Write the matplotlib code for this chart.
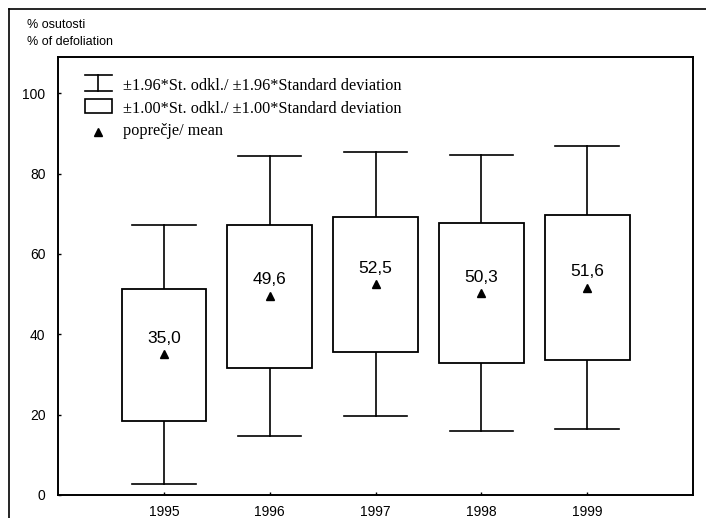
import matplotlib
matplotlib.use("Agg")
import matplotlib.pyplot as plt
from matplotlib.patches import Rectangle
from matplotlib.lines import Line2D

years = ["1995", "1996", "1997", "1998", "1999"]
means = [35.0, 49.6, 52.5, 50.3, 51.6]
box_low = [18.3, 31.7, 35.6, 32.9, 33.7]
box_high = [51.3, 67.3, 69.2, 67.8, 69.8]
whisk_low = [2.7, 14.8, 19.7, 15.9, 16.4]
whisk_high = [67.2, 84.4, 85.3, 84.6, 86.9]
mean_labels = ["35,0", "49,6", "52,5", "50,3", "51,6"]

plt.rcParams['font.family'] = ['Liberation Sans', 'DejaVu Sans']

fig = plt.figure(figsize=(7.06, 5.18), dpi=100)
ax = fig.add_axes([58/706, (518-495)/518, (693-58)/706, (495-57)/518])

box_w = 0.8
cap_w = 0.6
for i in range(len(years)):
    ax.plot([i, i], [whisk_low[i], box_low[i]], color='black', lw=1.2)
    ax.plot([i, i], [box_high[i], whisk_high[i]], color='black', lw=1.2)
    ax.plot([i - cap_w/2, i + cap_w/2], [whisk_low[i]]*2, color='black', lw=1.2)
    ax.plot([i - cap_w/2, i + cap_w/2], [whisk_high[i]]*2, color='black', lw=1.2)
    ax.add_patch(Rectangle((i - box_w/2, box_low[i]), box_w, box_high[i] - box_low[i],
                           facecolor='white', edgecolor='black', lw=1.3, zorder=2))
    ax.plot(i, means[i], marker='^', color='black', markersize=6, zorder=3)
    ax.annotate(mean_labels[i], (i, means[i]), xytext=(0, 6), textcoords='offset points',
                ha='center', va='bottom', fontsize=12.5, zorder=4)

ax.set_xlim(-1, 5)
ax.set_ylim(0, 109)
ax.set_xticks(range(len(years)))
ax.set_xticklabels(years, fontsize=10)
ax.set_yticks([0, 20, 40, 60, 80, 100])
ax.set_yticklabels(["0", "20", "40", "60", "80", "100"], fontsize=10)
ax.tick_params(direction='in', length=2.5, width=1)
ax.tick_params(axis='x', pad=7)
ax.tick_params(axis='y', pad=9)
for s in ax.spines.values():
    s.set_linewidth(1.4)

# legend (drawn manually)
T = ax.transAxes
x0, x1 = 0.0425, 0.085
xc = (x0 + x1) / 2
ax.plot([x0, x1], [0.959, 0.959], color='black', lw=1.2, transform=T)
ax.plot([x0, x1], [0.923, 0.923], color='black', lw=1.2, transform=T)
ax.plot([xc, xc], [0.923, 0.959], color='black', lw=1.2, transform=T)
ax.add_patch(Rectangle((x0, 0.872), x1 - x0, 0.031, facecolor='white', edgecolor='black',
                       lw=1.2, transform=T))
ax.plot(xc, 0.829, marker='^', color='black', markersize=5.5, transform=T)
serif = ['Liberation Serif', 'DejaVu Serif']
ax.text(0.102, 0.934, "±1.96*St. odkl./ ±1.96*Standard deviation", transform=T,
        va='center', ha='left', fontsize=11.7, family=serif)
ax.text(0.102, 0.882, "±1.00*St. odkl./ ±1.00*Standard deviation", transform=T,
        va='center', ha='left', fontsize=11.7, family=serif)
ax.text(0.102, 0.830, "poprečje/ mean", transform=T,
        va='center', ha='left', fontsize=11.7, family=serif)

# axis title
fig.text(27/706, 1 - 25/518, "% osutosti", ha='left', va='center', fontsize=9)
fig.text(27/706, 1 - 42/518, "% of defoliation", ha='left', va='center', fontsize=9)

# outer frame
fig.add_artist(Line2D([9/706, 1.0], [1 - 9/518, 1 - 9/518], transform=fig.transFigure,
                      color='black', lw=1.2))
fig.add_artist(Line2D([9/706, 9/706], [0, 1 - 9/518], transform=fig.transFigure,
                      color='black', lw=1.2))

fig.savefig("out.png", dpi=100)
